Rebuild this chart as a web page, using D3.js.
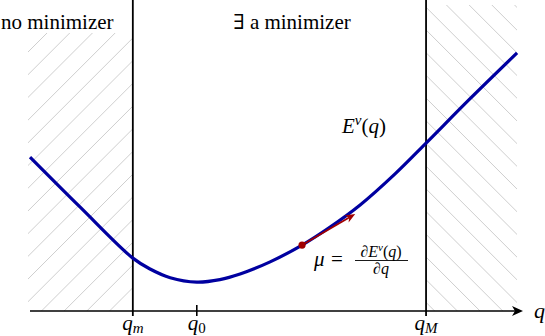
<!DOCTYPE html>
<html>
<head>
<meta charset="utf-8">
<script src="https://cdn.jsdelivr.net/npm/d3@7.9.0/dist/d3.min.js"></script>
<style>
  body { margin: 0; background: #fff; }
</style>
</head>
<body>
<svg id="chart" width="545" height="336"></svg>
<script>
// curve E^nu(q) (arbitrary units)
const qVals = [0, 1.02, 2.09, 2.44, 2.85, 3.39, 3.86, 4.27, 4.88, 5.53, 6.10, 6.71, 7.42, 8.05, 8.94, 9.90];
const eVals = [4.95, 3.34, 1.70, 1.35, 1.07, 0.93, 1.01, 1.19, 1.58, 2.12, 2.70, 3.41, 4.41, 5.40, 6.82, 8.30];

// special positions on the q axis
const qMin = 2.09, q0 = 3.39, qMax = 8.05;
const tickLabels = [
  { q: qMin, base: "q", sub: "m" },
  { q: q0, base: "q", sub: "0" },
  { q: qMax, base: "q", sub: "M" }
];

// point where the slope mu is shown, and the tip of the tangent arrow
const muPoint = [5.53, 2.12];
const muTip = [6.61, 3.12];

const serif = "'Liberation Serif', 'Times New Roman', 'DejaVu Serif', 'Noto Serif', serif";

const svg = d3.select("#chart").attr("font-family", serif);
const x = d3.scaleLinear().domain([0, 10]).range([30, 522]);
const y = d3.scaleLinear().domain([0, 10]).range([311, 0]);

const blue = "#0000a0", red = "#a00000", hatchGrey = "#c8c8c8";

function txt(xp, yp, size) {
  return svg.append("text").attr("x", xp).attr("y", yp)
    .attr("font-family", serif).attr("font-size", size).attr("fill", "#000");
}

// hatched "no minimizer" regions
const defs = svg.append("defs");
defs.append("clipPath").attr("id", "clipL")
  .append("rect").attr("x", x(0) - 2).attr("y", 33).attr("width", x(qMin) - x(0) + 2).attr("height", y(0) - 33);
defs.append("clipPath").attr("id", "clipR")
  .append("rect").attr("x", x(qMax)).attr("y", 5).attr("width", 517 - x(qMax)).attr("height", y(0) - 5);

const gap = 22.7;
const hl = svg.append("g").attr("clip-path", "url(#clipL)")
  .attr("stroke", hatchGrey).attr("stroke-width", 0.9);
d3.range(-20, 20).forEach(i => {
  const b = 38 + i * gap; // y where the line meets the q_m boundary
  const x1 = x(qMin);
  hl.append("line").attr("x1", x1 - 400).attr("y1", b + 400).attr("x2", x1 + 50).attr("y2", b - 50);
});
const hr = svg.append("g").attr("clip-path", "url(#clipR)")
  .attr("stroke", hatchGrey).attr("stroke-width", 0.9);
d3.range(-20, 20).forEach(i => {
  const b = 30 + i * gap;
  const x1 = x(qMax);
  hr.append("line").attr("x1", x1 - 50).attr("y1", b - 50).attr("x2", x1 + 400).attr("y2", b + 400);
});

// vertical boundaries
[qMin, qMax].forEach(q => {
  svg.append("line").attr("x1", x(q)).attr("x2", x(q)).attr("y1", 0).attr("y2", y(0) + 5)
    .attr("stroke", "#000").attr("stroke-width", 1.8);
});

// q axis with arrow
svg.append("line").attr("x1", x(0)).attr("x2", x(10) - 4).attr("y1", y(0)).attr("y2", y(0))
  .attr("stroke", "#000").attr("stroke-width", 1.6);
svg.append("path")
  .attr("d", `M${x(10) + 1},${y(0)} L${x(10) - 10},${y(0) - 5} L${x(10) - 7},${y(0)} L${x(10) - 10},${y(0) + 5} Z`)
  .attr("fill", "#000");
svg.append("line").attr("x1", x(q0)).attr("x2", x(q0)).attr("y1", y(0) - 6).attr("y2", y(0) + 5)
  .attr("stroke", "#000").attr("stroke-width", 1.6);

// tick labels
tickLabels.forEach(t => {
  const tx = txt(x(t.q), 330, 21).attr("text-anchor", "middle");
  tx.append("tspan").attr("font-style", "italic").text(t.base);
  tx.append("tspan").attr("dy", 3).attr("font-size", 15)
    .attr("font-style", t.sub === "0" ? "normal" : "italic").text(t.sub);
});
txt(534, 318, 22).attr("font-style", "italic").text("q");

// the curve
const line = d3.line().x((d, i) => x(qVals[i])).y(d => y(d)).curve(d3.curveCatmullRom.alpha(0.5));
svg.append("path").datum(eVals).attr("d", line)
  .attr("fill", "none").attr("stroke", blue).attr("stroke-width", 3.2);

// tangent arrow and point
const ax0 = x(muPoint[0]), ay0 = y(muPoint[1]), ax1 = x(muTip[0]), ay1 = y(muTip[1]);
const ang = Math.atan2(ay1 - ay0, ax1 - ax0);
const hlen = 10, hw = 4;
const bx = ax1 - hlen * Math.cos(ang), by = ay1 - hlen * Math.sin(ang);
svg.append("line").attr("x1", ax0).attr("y1", ay0).attr("x2", bx + 3 * Math.cos(ang)).attr("y2", by + 3 * Math.sin(ang))
  .attr("stroke", red).attr("stroke-width", 1.8);
svg.append("path")
  .attr("d", `M${ax1},${ay1} L${bx - hw * Math.sin(ang)},${by + hw * Math.cos(ang)} L${bx + 3 * Math.cos(ang)},${by + 3 * Math.sin(ang)} L${bx + hw * Math.sin(ang)},${by - hw * Math.cos(ang)} Z`)
  .attr("fill", red);
svg.append("circle").attr("cx", ax0).attr("cy", ay0).attr("r", 3.6).attr("fill", red);

// region labels
txt(1, 29, 21).text("no minimizer");
txt(292, 29, 21).attr("text-anchor", "middle").text("\u2203 a minimizer");

// E^nu(q)
const el = txt(342, 133, 21);
el.append("tspan").attr("font-style", "italic").text("E");
el.append("tspan").attr("dy", -8).attr("font-size", 15).attr("font-style", "italic").text("\u03bd");
el.append("tspan").attr("dy", 8).text("(");
el.append("tspan").attr("font-style", "italic").text("q");
el.append("tspan").text(")");

// mu = dE/dq
txt(314, 266, 21).attr("font-style", "italic").text("\u03bc");
txt(331, 266, 21).text("=");
const num = txt(381, 257, 16).attr("text-anchor", "middle");
num.append("tspan").text("\u2202");
num.append("tspan").attr("font-style", "italic").text("E");
num.append("tspan").attr("dy", -6).attr("font-size", 11).attr("font-style", "italic").text("\u03bd");
num.append("tspan").attr("dy", 6).text("(");
num.append("tspan").attr("font-style", "italic").text("q");
num.append("tspan").text(")");
svg.append("line").attr("x1", 355).attr("x2", 408).attr("y1", 260.5).attr("y2", 260.5)
  .attr("stroke", "#000").attr("stroke-width", 0.9);
const den = txt(381, 274, 16).attr("text-anchor", "middle");
den.append("tspan").text("\u2202");
den.append("tspan").attr("font-style", "italic").text("q");
</script>
</body>
</html>
